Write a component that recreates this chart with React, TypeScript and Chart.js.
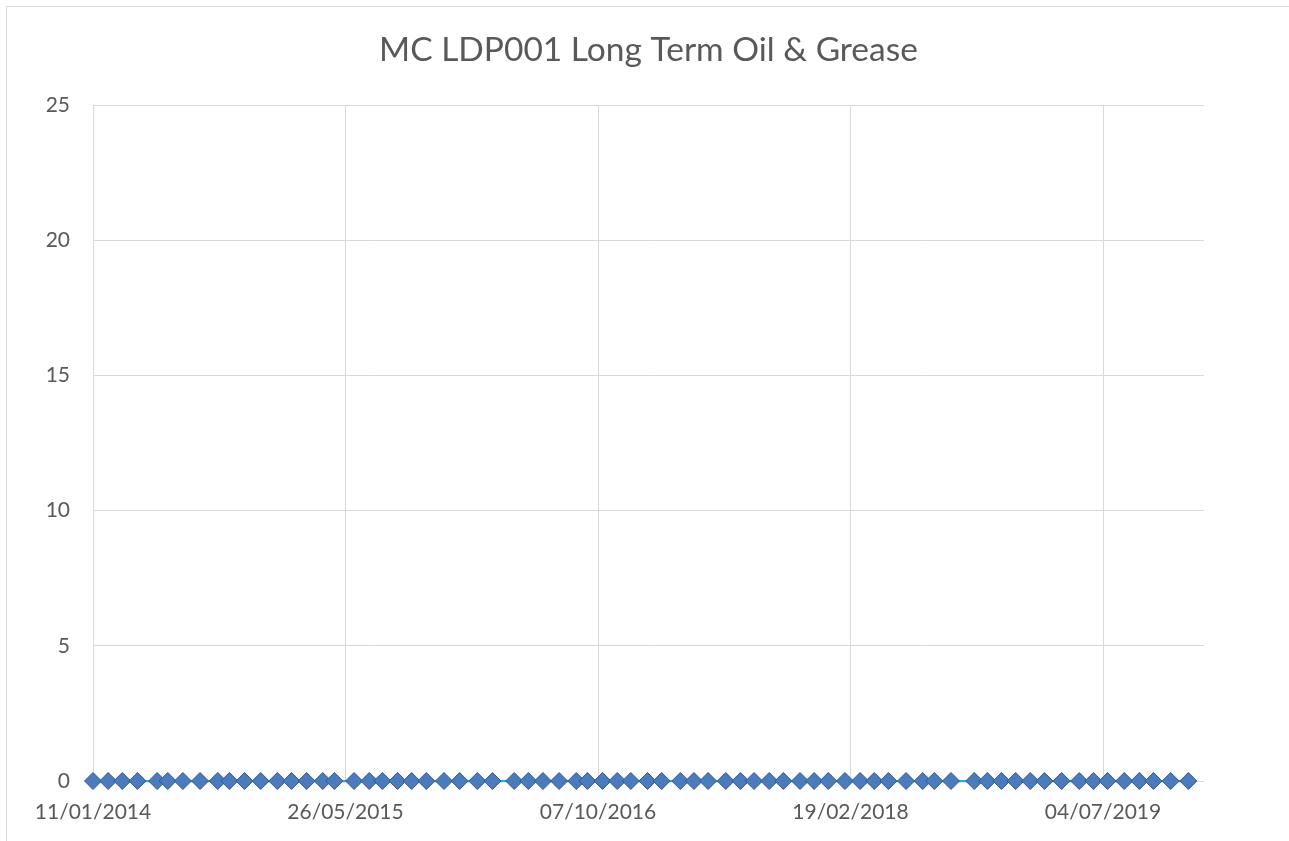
import React, { useEffect, useRef } from "react";
import { Chart, registerables } from "chart.js";

Chart.register(...registerables);

const chartTitle = "MC LDP001 Long Term Oil & Grease";

const sampleDates: string[] = [
  "2014-01-11", "2014-02-10", "2014-03-10", "2014-04-09", "2014-05-18", "2014-06-08",
  "2014-07-08", "2014-08-11", "2014-09-15", "2014-10-08", "2014-11-07", "2014-12-09",
  "2015-01-11", "2015-02-08", "2015-03-10", "2015-04-11", "2015-05-04", "2015-06-12",
  "2015-07-12", "2015-08-07", "2015-09-06", "2015-10-04", "2015-11-02", "2015-12-07",
  "2016-01-07", "2016-02-11", "2016-03-12", "2016-04-24", "2016-05-22", "2016-06-20",
  "2016-07-22", "2016-08-25", "2016-09-16", "2016-10-16", "2016-11-14", "2016-12-11",
  "2017-01-13", "2017-02-10", "2017-03-19", "2017-04-15", "2017-05-13", "2017-06-17",
  "2017-07-16", "2017-08-12", "2017-09-11", "2017-10-09", "2017-11-11", "2017-12-09",
  "2018-01-06", "2018-02-08", "2018-03-10", "2018-04-07", "2018-05-05", "2018-06-09",
  "2018-07-12", "2018-08-04", "2018-09-06", "2018-10-22", "2018-11-17", "2018-12-15",
  "2019-01-12", "2019-02-10", "2019-03-10", "2019-04-13", "2019-05-18", "2019-06-15",
  "2019-07-13", "2019-08-15", "2019-09-14", "2019-10-12", "2019-11-15", "2019-12-20",
];

const oilGreaseValues: number[] = [
  0, 0, 0, 0, 0, 0, 0, 0, 0, 0, 0, 0,
  0, 0, 0, 0, 0, 0, 0, 0, 0, 0, 0, 0,
  0, 0, 0, 0, 0, 0, 0, 0, 0, 0, 0, 0,
  0, 0, 0, 0, 0, 0, 0, 0, 0, 0, 0, 0,
  0, 0, 0, 0, 0, 0, 0, 0, 0, 0, 0, 0,
  0, 0, 0, 0, 0, 0, 0, 0, 0, 0, 0, 0,
];

// x axis tick labels (dates), axis start and end
const xTickDates: string[] = ["2014-01-11", "2015-05-26", "2016-10-07", "2018-02-19", "2019-07-04"];
const axisStartDate = "2014-01-11";
const axisEndDate = "2020-01-20";
const yMin = 0;
const yMax = 25;
const yStep = 5;

const DAY = 86400000;
const toUtc = (s: string) => {
  const [y, m, d] = s.split("-").map(Number);
  return Date.UTC(y, m - 1, d);
};
const startMs = toUtc(axisStartDate);
const toDays = (s: string) => Math.round((toUtc(s) - startMs) / DAY);
const pad2 = (n: number) => (n < 10 ? "0" + n : "" + n);
const fmtDay = (days: number) => {
  const dt = new Date(startMs + days * DAY);
  return `${pad2(dt.getUTCDate())}/${pad2(dt.getUTCMonth() + 1)}/${dt.getUTCFullYear()}`;
};

const FONT = "Lato, Calibri, Carlito, 'Open Sans', sans-serif";
const TEXT = "#595959";
const GRID = "#d9d9d9";

const borderPlugin = {
  id: "frame",
  beforeDraw(chart: any) {
    const { ctx, width, height } = chart;
    ctx.save();
    ctx.fillStyle = "#ffffff";
    ctx.fillRect(0, 0, width, height);
    ctx.strokeStyle = GRID;
    ctx.lineWidth = 1;
    ctx.strokeRect(6.5, 6.5, width + 20, height + 20);
    ctx.restore();
  },
};

export default function App() {
  const ref = useRef<HTMLCanvasElement>(null);
  useEffect(() => {
    if (!ref.current) return;
    const points = sampleDates.map((d, i) => ({ x: toDays(d), y: oilGreaseValues[i] }));
    const tickDays = xTickDates.map(toDays);
    const chart = new Chart(ref.current, {
      type: "line",
      data: {
        datasets: [
          {
            label: "Oil & Grease",
            data: points,
            borderColor: "#1fb0e8",
            borderWidth: 2.25,
            pointStyle: "rectRot",
            pointRadius: 8.5,
            pointBackgroundColor: "#4a7bbd",
            pointBorderColor: "#34589a",
            pointBorderWidth: 1,
            tension: 0,
            clip: false as any,
            yAxisID: "y",
          },
        ],
      },
      options: {
        responsive: false,
        animation: false,
        layout: { padding: { left: 8, right: 0, top: 0, bottom: 0 } },
        plugins: {
          legend: { display: false },
          tooltip: { enabled: false },
          title: {
            display: true,
            text: chartTitle,
            color: TEXT,
            font: { family: FONT, size: 33.5, weight: "normal" as any, lineHeight: 1.2 },
            padding: { top: 30, bottom: 35 },
          },
        },
        scales: {
          x: {
            type: "linear",
            min: 0,
            max: toDays(axisEndDate),
            ticks: {
              color: TEXT,
              font: { family: FONT, size: 21 },
              padding: 19,
              maxRotation: 0,
              autoSkip: false,
              callback: (v: any) => fmtDay(Number(v)),
            },
            grid: { color: GRID, lineWidth: 1, drawTicks: false },
            border: { display: false },
            afterBuildTicks: (axis: any) => {
              axis.ticks = tickDays.map((v) => ({ value: v }));
            },
            afterFit: (axis: any) => {
              axis.height = 60;
            },
          },
          y: {
            position: "left",
            min: yMin,
            max: yMax,
            ticks: {
              stepSize: yStep,
              color: TEXT,
              font: { family: FONT, size: 21 },
              padding: 23,
            },
            grid: { color: GRID, lineWidth: 1, drawTicks: false },
            border: { display: false },
            afterFit: (axis: any) => {
              axis.width = 85;
            },
          },
          yRightSpace: {
            type: "linear",
            position: "right",
            min: yMin,
            max: yMax,
            ticks: { display: false },
            grid: { display: false, drawTicks: false },
            border: { display: false },
            afterFit: (axis: any) => {
              axis.width = 85;
            },
          },
        },
      },
      plugins: [borderPlugin],
    });
    return () => chart.destroy();
  }, []);
  return (
    <div style={{ position: "absolute", left: 0, top: 0, width: 1289, height: 841, background: "#fff" }}>
      <canvas ref={ref} width={1289} height={841} style={{ display: "block" }} />
    </div>
  );
}
